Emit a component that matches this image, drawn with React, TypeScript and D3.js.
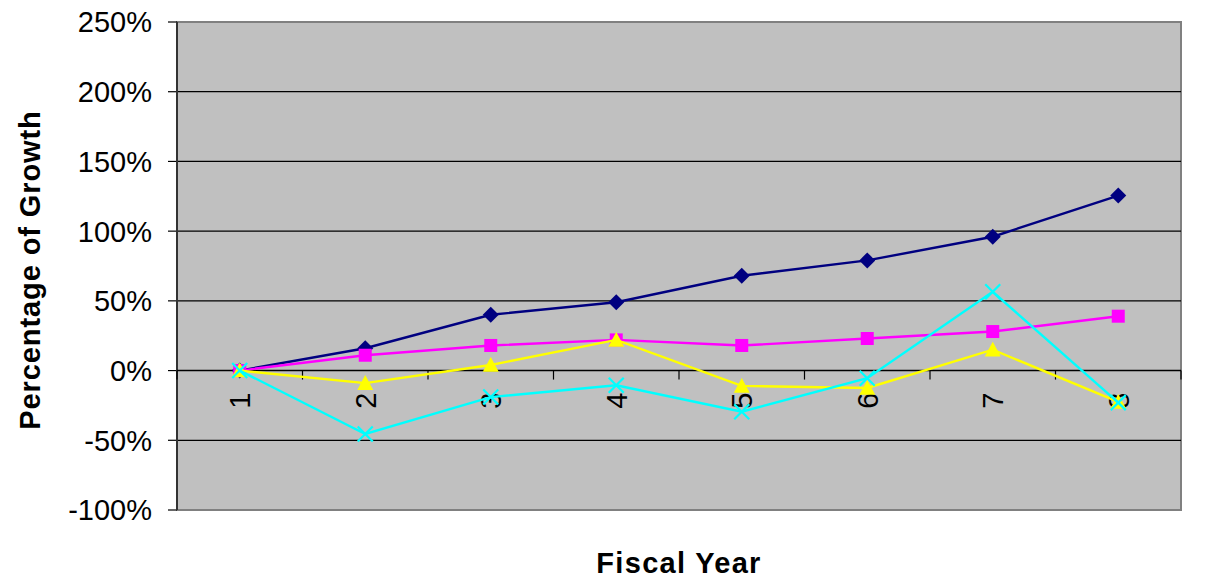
import React from "react";
import * as d3 from "d3";

const categories = ["1", "2", "3", "4", "5", "6", "7", "8"];
const yTicks = [-100, -50, 0, 50, 100, 150, 200, 250];

const seriesA = [0, 16, 40, 49, 68, 79, 96, 125.5];
const seriesB = [0, 11, 18, 22, 18, 23, 28, 39];
const seriesC = [0, -9, 4, 22, -11, -12.5, 15, -22.5];
const seriesD = [0, -45.5, -19, -10.5, -29.5, -5.5, 56.5, -23];

const series = [
  { name: "A", values: seriesA, color: "#000080", marker: "diamond" },
  { name: "B", values: seriesB, color: "#FF00FF", marker: "square" },
  { name: "C", values: seriesC, color: "#FFFF00", marker: "triangle" },
  { name: "D", values: seriesD, color: "#00FFFF", marker: "x" },
];

const W = 1215;
const H = 579;
const left = 177;
const right = 1181;
const top = 22;
const bottom = 510;

function Marker({ type, x, y, color }: { type: string; x: number; y: number; color: string }) {
  if (type === "diamond") {
    const s = 8;
    return <path d={`M${x},${y - s}L${x + s},${y}L${x},${y + s}L${x - s},${y}Z`} fill={color} />;
  }
  if (type === "square") {
    const s = 6.5;
    return <rect x={x - s} y={y - s} width={2 * s} height={2 * s} fill={color} />;
  }
  if (type === "triangle") {
    const w = 8, h = 8;
    return <path d={`M${x},${y - h}L${x + w},${y + h * 0.85}L${x - w},${y + h * 0.85}Z`} fill={color} />;
  }
  const s = 7.5;
  return (
    <path
      d={`M${x - s},${y - s}L${x + s},${y + s}M${x - s},${y + s}L${x + s},${y - s}`}
      stroke={color}
      strokeWidth={2.2}
      fill="none"
    />
  );
}

export default function App() {
  const x = d3.scaleBand<string>().domain(categories).range([left, right]).padding(0);
  const y = d3.scaleLinear().domain([-100, 250]).range([bottom, top]);
  const cx = (c: string) => (x(c) as number) + x.bandwidth() / 2;
  const line = d3
    .line<number>()
    .x((_, i) => cx(categories[i]))
    .y((d) => y(d));
  const y0 = y(0);
  const boundaries = d3.range(categories.length + 1).map((i) => left + i * x.bandwidth());
  const font = "Arial, 'Liberation Sans', sans-serif";

  return (
    <svg width={W} height={H} style={{ position: "absolute", left: 0, top: 0 }} fontFamily={font}>
      <rect x={0} y={0} width={W} height={H} fill="#fff" />
      <rect x={left} y={top} width={right - left} height={bottom - top} fill="#C0C0C0" stroke="#808080" strokeWidth={2} />
      {yTicks.map((t) => (
        <g key={t}>
          {t !== 250 && t !== -100 && t !== 0 && (
            <line x1={left} x2={right} y1={y(t)} y2={y(t)} stroke="#000" strokeWidth={1.2} />
          )}
          <line x1={left - 9} x2={left} y1={y(t)} y2={y(t)} stroke="#000" strokeWidth={1.2} />
          <text x={152} y={y(t)} dy="0.36em" textAnchor="end" fontSize={29} fill="#000">
            {`${t}%`}
          </text>
        </g>
      ))}
      <line x1={left} x2={left} y1={top} y2={bottom} stroke="#333" strokeWidth={2} />
      <line x1={left} x2={right} y1={y0} y2={y0} stroke="#000" strokeWidth={1.4} />
      {boundaries.map((b, i) => (
        <line key={i} x1={b} x2={b} y1={y0} y2={y0 + 9} stroke="#000" strokeWidth={1.2} />
      ))}
      {categories.map((c) => (
        <text
          key={c}
          transform={`translate(${cx(c)},${y0 + 22}) rotate(-90)`}
          dy="0.36em"
          textAnchor="end"
          fontSize={29}
          fill="#000"
        >
          {c}
        </text>
      ))}
      {series.map((s) => (
        <g key={s.name}>
          <path d={line(s.values) as string} fill="none" stroke={s.color} strokeWidth={2.4} />
          {s.values.map((v, i) => (
            <Marker key={i} type={s.marker} x={cx(categories[i])} y={y(v)} color={s.color} />
          ))}
        </g>
      ))}
      <text
        transform={`translate(30,${(top + bottom) / 2 + 4}) rotate(-90)`}
        dy="0.36em"
        textAnchor="middle"
        fontSize={29}
        fontWeight="bold"
        letterSpacing={0.9}
        fill="#000"
      >
        Percentage of Growth
      </text>
      <text x={679} y={563} dy="0.36em" textAnchor="middle" fontSize={29} fontWeight="bold" letterSpacing={1.3} fill="#000">
        Fiscal Year
      </text>
    </svg>
  );
}
